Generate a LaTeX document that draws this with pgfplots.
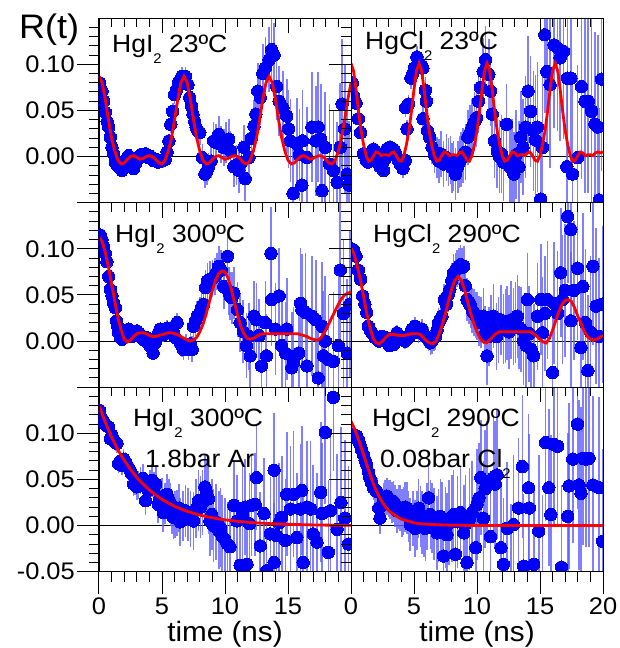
\documentclass[border=0pt]{standalone}
\usepackage{pgfplots}
\pgfplotsset{compat=1.18}
\usepackage{fontspec}
\setmainfont{Liberation Sans}[FakeStretch=1.06]
\definecolor{dotblue}{RGB}{0,0,250}
\definecolor{barblue}{RGB}{95,95,255}
\definecolor{fitred}{RGB}{255,0,0}
\newcommand\tickfont{\fontsize{24}{28}\selectfont}
\newcommand\labfont{\fontsize{25}{30}\selectfont}
\newcommand\sub[1]{\raisebox{-11pt}{\fontsize{14}{14}\selectfont #1}}
\pgfplotsset{
 panel/.style={scale only axis, width=252pt, height=184.5pt, xmin=0, xmax=20, ymin=-0.05, ymax=0.15,
   anchor=south west, axis line style={black, line width=1pt}, every tick/.style={black, line width=1pt},
   clip marker paths=true},
 mainax/.style={panel, tick align=outside, ytick pos=left, ytick={-0.05,0,0.05,0.1},
   minor ytick={-0.04,-0.03,-0.02,-0.01,0.01,0.02,0.03,0.04,0.06,0.07,0.08,0.09,0.11,0.12,0.13,0.14},
   major tick length=22pt, minor tick length=10pt,
   yticklabel style={font=\tickfont, inner sep=2pt}, xticklabel style={font=\tickfont, inner sep=4pt}},
 notopx/.style={xtick=\empty},
 botx/.style={xtick={0,5,10,15,20}, minor xtick={1,2,3,4,6,7,8,9,11,12,13,14,16,17,18,19}, xtick pos=left},
 topax/.style={panel, tick align=inside, xtick pos=right, xtick={0,5,10,15,20},
   minor xtick={1,2,3,4,6,7,8,9,11,12,13,14,16,17,18,19}, xticklabels={}, ytick=\empty,
   major tick length=15pt, minor tick length=9pt},
 pts/.style={color=dotblue, only marks, mark=*, mark size=6.2pt, mark options={draw=dotblue, fill=dotblue, line width=0pt},
   error bars/.cd, y dir=both, y explicit, error mark=none,
   error bar style={barblue, line width=1.6pt, opacity=0.8}},
 fit/.style={fitred, line width=2.8pt, no marks},
 zero/.style={black, line width=0.8pt, no marks}
}
\begin{document}
\begin{tikzpicture}
\useasboundingbox (0pt,0pt) rectangle (620pt,648pt);
% ================= TOP LEFT =================
\begin{axis}[mainax, notopx, at={(99pt,445.3pt)}, yticklabels={,0.00,0.05,0.10}]
\addplot[zero] coordinates {(0,0) (20,0)};
\addplot[pts] table[x=x,y=y,y error=e] {
x y e
0.05 0.080 0.006
0.24 0.071 0.006
0.37 0.060 0.006
0.50 0.048 0.006
0.65 0.038 0.006
0.77 0.032 0.006
0.90 0.021 0.006
1.03 0.010 0.006
1.16 0.003 0.006
1.30 -0.006 0.006
1.43 -0.009 0.006
1.56 -0.011 0.006
1.70 -0.012 0.006
1.82 -0.015 0.006
1.96 -0.010 0.006
2.10 -0.004 0.006
2.22 -0.002 0.006
2.35 0.001 0.006
2.50 -0.006 0.006
2.62 -0.010 0.006
2.75 -0.013 0.006
2.88 -0.008 0.006
3.00 -0.004 0.006
3.15 0.000 0.006
3.30 0.002 0.006
3.50 0.001 0.007
3.70 0.003 0.007
3.90 -0.001 0.007
4.10 0.000 0.007
4.30 -0.004 0.007
4.50 -0.003 0.007
4.70 -0.006 0.007
4.90 -0.005 0.007
5.10 -0.004 0.008
5.25 -0.003 0.008
5.40 0.005 0.008
5.55 0.017 0.008
5.70 0.035 0.009
5.85 0.049 0.009
6.00 0.067 0.010
6.15 0.072 0.010
6.30 0.080 0.010
6.45 0.083 0.010
6.60 0.087 0.010
6.85 0.087 0.010
7.06 0.078 0.010
7.20 0.064 0.012
7.33 0.055 0.012
7.46 0.046 0.012
7.60 0.038 0.012
7.70 0.032 0.012
7.85 0.028 0.013
8.00 0.026 0.013
8.20 -0.001 0.015
8.40 -0.019 0.015
8.55 -0.016 0.015
8.70 -0.011 0.015
8.90 -0.005 0.018
9.10 0.017 0.020
9.30 0.015 0.020
9.50 0.024 0.020
9.70 0.013 0.020
9.90 0.010 0.020
10.10 0.015 0.022
10.30 0.019 0.022
10.45 0.006 0.022
10.70 -0.011 0.022
10.90 -0.009 0.022
11.10 -0.015 0.024
11.30 -0.006 0.024
11.50 0.010 0.024
11.60 -0.024 0.024
11.90 -0.001 0.025
12.10 0.020 0.026
12.30 0.033 0.028
12.45 0.046 0.028
12.60 0.071 0.030
12.80 0.064 0.030
13.00 0.090 0.032
13.20 0.096 0.034
13.50 0.105 0.035
13.70 0.116 0.035
13.90 0.110 0.035
14.10 0.076 0.036
14.30 0.060 0.038
14.60 0.053 0.040
14.90 0.044 0.040
15.05 0.030 0.042
15.20 0.017 0.045
15.40 -0.040 0.050
15.70 0.014 0.050
15.90 0.002 0.050
16.10 -0.031 0.055
16.15 0.017 0.055
16.50 -0.001 0.055
16.90 0.032 0.060
17.20 0.017 0.060
17.40 0.032 0.060
17.60 0.019 0.060
17.70 -0.037 0.060
17.96 0.010 0.060
18.30 -0.008 0.065
18.60 -0.015 0.065
18.90 -0.028 0.065
19.15 0.010 0.070
19.30 0.057 0.070
19.50 0.030 0.070
19.70 -0.019 0.070
19.85 -0.031 0.070
};
\addplot[fit] table {
0 0.087
0.25 0.080
0.5 0.062
0.75 0.040
1.0 0.020
1.25 0.006
1.5 -0.004
1.75 -0.008
2.0 -0.007
2.25 -0.003
2.5 0.000
2.75 0.001
3.0 -0.001
3.25 -0.003
3.5 -0.002
3.75 0.000
4.0 0.001
4.25 0.000
4.5 -0.003
4.75 -0.007
5.0 -0.008
5.25 -0.004
5.5 0.006
5.75 0.020
6.0 0.040
6.25 0.062
6.5 0.080
6.75 0.087
7.0 0.080
7.25 0.062
7.5 0.040
7.75 0.020
8.0 0.006
8.25 -0.004
8.5 -0.008
8.75 -0.007
9.0 -0.003
9.25 0.000
9.5 0.001
9.75 -0.001
10.0 -0.003
10.25 -0.002
10.5 0.000
10.75 0.001
11.0 0.000
11.25 -0.003
11.5 -0.007
11.75 -0.008
12.0 -0.004
12.25 0.006
12.5 0.020
12.75 0.040
13.0 0.062
13.25 0.080
13.5 0.087
13.75 0.080
14.0 0.062
14.25 0.040
14.5 0.020
14.75 0.006
15.0 -0.004
15.25 -0.008
15.5 -0.007
15.75 -0.003
16.0 0.000
16.25 0.001
16.5 -0.001
16.75 -0.003
17.0 -0.002
17.25 0.000
17.5 0.001
17.75 0.000
18.0 -0.003
18.25 -0.007
18.5 -0.008
18.75 -0.004
19.0 0.006
19.25 0.020
19.5 0.040
19.75 0.062
20.0 0.080
};
\end{axis}
\begin{axis}[topax, at={(99pt,445.3pt)}]\end{axis}
% ================= TOP RIGHT =================
\begin{axis}[mainax, notopx, at={(351pt,445.3pt)}, yticklabels={}]
\addplot[zero] coordinates {(0,0) (20,0)};
\addplot[pts] table[x=x,y=y,y error=e] {
x y e
0.10 0.080 0.005
0.19 0.066 0.005
0.40 0.058 0.005
0.58 0.041 0.005
0.77 0.026 0.005
0.98 0.003 0.006
1.20 -0.004 0.006
1.35 -0.006 0.006
1.51 -0.001 0.006
1.65 0.004 0.006
1.78 0.008 0.006
1.92 0.006 0.006
2.05 0.003 0.006
2.18 -0.004 0.006
2.31 -0.011 0.006
2.45 -0.009 0.007
2.58 -0.015 0.007
2.71 -0.002 0.007
2.84 0.008 0.007
2.98 0.006 0.007
3.11 0.010 0.008
3.24 0.004 0.008
3.37 0.008 0.008
3.50 0.005 0.008
3.59 0.001 0.008
3.75 -0.004 0.009
3.90 -0.008 0.009
4.00 -0.006 0.009
4.12 -0.013 0.010
4.30 -0.004 0.010
4.33 0.053 0.010
4.45 0.030 0.010
4.57 0.057 0.010
4.75 0.085 0.012
4.90 0.090 0.012
5.02 0.096 0.012
5.23 0.108 0.012
5.50 0.100 0.012
5.71 0.096 0.013
5.71 0.041 0.013
5.90 0.072 0.014
5.98 0.060 0.014
6.08 0.028 0.015
6.24 0.021 0.016
6.43 0.010 0.018
6.62 0.002 0.020
6.83 -0.001 0.022
7.00 -0.005 0.024
7.14 0.003 0.025
7.35 -0.008 0.025
7.57 -0.001 0.025
7.75 -0.006 0.026
7.89 -0.004 0.026
8.02 -0.012 0.027
8.15 -0.010 0.027
8.29 -0.019 0.028
8.47 -0.011 0.028
8.60 -0.006 0.028
8.74 -0.003 0.030
8.90 0.001 0.030
9.08 0.005 0.030
9.27 0.021 0.030
9.45 0.026 0.030
9.61 0.032 0.030
9.80 0.038 0.032
9.96 0.042 0.032
10.12 0.060 0.034
10.28 0.075 0.034
10.49 0.092 0.036
10.68 0.105 0.036
10.94 0.089 0.038
11.08 0.071 0.038
11.21 0.046 0.040
11.39 0.017 0.040
11.61 0.006 0.040
11.80 0.000 0.040
11.93 0.003 0.042
12.10 -0.006 0.042
12.35 0.035 0.044
12.62 -0.011 0.045
12.80 -0.004 0.045
12.93 -0.019 0.046
13.10 0.002 0.048
13.33 -0.011 0.050
13.47 0.021 0.050
13.65 0.010 0.052
13.86 0.032 0.055
14.05 0.071 0.060
14.26 0.049 0.060
14.48 0.028 0.065
14.65 0.018 0.070
14.79 0.032 0.070
15.06 -0.046 0.080
15.20 0.010 0.080
15.38 0.132 0.085
15.54 0.092 0.085
15.80 0.078 0.090
16.12 0.121 0.090
16.39 0.118 0.090
16.60 0.107 0.090
16.87 0.114 0.095
17.13 -0.011 0.095
17.18 0.085 0.095
17.45 0.085 0.100
17.58 -0.019 0.100
17.98 -0.001 0.100
18.30 0.076 0.100
18.57 0.060 0.100
18.83 0.060 0.100
19.10 0.049 0.100
19.36 0.035 0.100
19.58 0.032 0.100
19.71 -0.047 0.100
19.89 0.084 0.100
};
\addplot[fit] table {
0.0 0.101
0.2 0.093
0.4 0.073
0.6 0.049
0.8 0.028
1.0 0.013
1.2 0.001
1.4 -0.005
1.6 -0.004
1.8 0.001
2.0 0.005
2.2 0.004
2.4 0.001
2.6 0.002
2.8 0.002
3.0 0.001
3.2 0.004
3.4 0.005
3.6 0.001
3.8 -0.004
4.0 -0.005
4.2 0.001
4.4 0.013
4.6 0.028
4.8 0.049
5.0 0.073
5.2 0.093
5.4 0.101
5.6 0.093
5.8 0.073
6.0 0.049
6.2 0.028
6.4 0.013
6.6 0.001
6.8 -0.005
7.0 -0.004
7.2 0.001
7.4 0.005
7.6 0.004
7.8 0.001
8.0 0.002
8.2 0.002
8.4 0.001
8.6 0.004
8.8 0.005
9.0 0.001
9.2 -0.004
9.4 -0.005
9.6 0.001
9.8 0.013
10.0 0.028
10.2 0.049
10.4 0.073
10.6 0.093
10.8 0.101
11.0 0.093
11.2 0.073
11.4 0.049
11.6 0.028
11.8 0.013
12.0 0.001
12.2 -0.005
12.4 -0.004
12.6 0.001
12.8 0.005
13.0 0.004
13.2 0.001
13.4 0.002
13.6 0.002
13.8 0.001
14.0 0.004
14.2 0.005
14.4 0.001
14.6 -0.004
14.8 -0.005
15.0 0.001
15.2 0.013
15.4 0.028
15.6 0.049
15.8 0.073
16.0 0.093
16.2 0.101
16.4 0.093
16.6 0.073
16.8 0.049
17.0 0.028
17.2 0.013
17.4 0.001
17.6 -0.005
17.8 -0.004
18.0 0.001
18.2 0.005
18.4 0.004
18.6 0.001
18.8 0.002
19.0 0.002
19.2 0.001
19.4 0.004
19.6 0.005
19.8 0.004
20.0 0.005
};
\end{axis}
\begin{axis}[topax, at={(351pt,445.3pt)}]\end{axis}
% ================= MIDDLE LEFT =================
\begin{axis}[mainax, notopx, at={(99pt,260.8pt)}, yticklabels={,0.00,0.05,0.10}]
\addplot[zero] coordinates {(0,0) (20,0)};
\addplot[pts] table[x=x,y=y,y error=e] {
x y e
0.03 0.113 0.005
0.10 0.115 0.005
0.24 0.110 0.005
0.37 0.102 0.005
0.50 0.095 0.005
0.63 0.086 0.005
0.77 0.070 0.005
0.90 0.056 0.005
1.03 0.049 0.005
1.16 0.041 0.005
1.30 0.036 0.005
1.38 0.022 0.005
1.48 0.016 0.005
1.56 0.009 0.005
1.70 0.004 0.005
1.83 0.002 0.005
1.96 0.006 0.005
2.10 0.011 0.006
2.22 0.009 0.006
2.35 0.013 0.006
2.48 0.008 0.006
2.60 0.005 0.006
2.75 0.008 0.006
2.87 0.006 0.006
3.00 0.011 0.006
3.15 0.009 0.006
3.30 0.007 0.006
3.50 0.002 0.007
3.70 0.004 0.007
3.90 -0.002 0.007
4.10 -0.006 0.007
4.30 -0.013 0.008
4.45 -0.002 0.008
4.60 0.005 0.008
4.75 0.010 0.008
4.87 0.013 0.008
5.00 0.010 0.008
5.10 0.007 0.008
5.25 0.011 0.008
5.40 0.014 0.009
5.55 0.010 0.009
5.70 0.013 0.009
5.90 0.009 0.010
6.05 0.004 0.010
6.20 0.020 0.010
6.45 -0.002 0.010
6.60 -0.006 0.011
6.70 -0.009 0.011
6.90 -0.004 0.012
7.10 -0.009 0.012
7.25 -0.003 0.013
7.40 -0.009 0.014
7.50 0.016 0.015
7.65 0.022 0.016
7.80 0.027 0.016
8.00 0.031 0.017
8.15 0.036 0.018
8.30 0.040 0.018
8.45 0.058 0.019
8.60 0.065 0.020
8.80 0.067 0.020
9.00 0.068 0.020
9.20 0.070 0.020
9.35 0.075 0.020
9.50 0.081 0.022
9.70 0.077 0.022
9.90 0.059 0.024
10.20 0.092 0.026
10.30 0.054 0.026
10.40 0.049 0.026
10.55 0.047 0.028
10.70 0.052 0.028
11.00 0.034 0.030
11.20 0.020 0.032
11.45 0.010 0.034
11.70 -0.005 0.035
11.90 0.005 0.036
12.00 -0.016 0.036
12.30 0.027 0.038
12.50 0.023 0.040
12.70 0.006 0.040
12.90 -0.027 0.042
13.20 0.020 0.045
13.30 -0.016 0.045
13.65 0.095 0.050
13.70 0.045 0.050
14.00 0.013 0.050
14.30 0.049 0.052
14.50 -0.005 0.055
14.80 -0.013 0.055
14.90 0.013 0.055
15.30 -0.029 0.060
15.45 -0.023 0.060
15.85 -0.013 0.060
16.00 0.041 0.060
16.10 0.034 0.060
16.40 0.031 0.065
16.50 -0.027 0.065
16.90 0.027 0.065
17.20 0.023 0.065
17.40 -0.040 0.070
17.70 0.016 0.070
17.80 -0.016 0.070
17.96 0.000 0.070
18.20 -0.020 0.070
18.60 -0.022 0.075
19.00 -0.005 0.075
19.15 0.077 0.075
19.40 0.030 0.080
19.70 -0.013 0.080
19.90 0.040 0.080
};
\addplot[fit] table {
0 0.112
0.25 0.108
0.5 0.096
0.75 0.080
1.0 0.062
1.25 0.043
1.5 0.026
1.75 0.012
2.0 0.002
2.25 -0.001
2.5 0.001
2.75 0.005
3.0 0.008
3.25 0.009
3.5 0.009
3.75 0.008
4.0 0.006
4.25 0.005
4.5 0.005
4.75 0.006
5.0 0.007
5.25 0.008
5.5 0.009
5.75 0.009
6.0 0.008
6.25 0.007
6.5 0.005
6.75 0.003
7.0 0.001
7.25 0.000
7.5 0.001
7.75 0.004
8.0 0.010
8.25 0.018
8.5 0.029
8.75 0.042
9.0 0.055
9.25 0.066
9.5 0.073
9.75 0.076
10.0 0.075
10.25 0.068
10.5 0.056
10.75 0.042
11.0 0.028
11.25 0.016
11.5 0.008
11.75 0.003
12.0 0.002
12.25 0.003
12.5 0.005
12.75 0.007
13.0 0.008
13.5 0.008
14.0 0.008
14.5 0.008
15.0 0.008
15.5 0.008
15.75 0.008
16.0 0.007
16.25 0.006
16.5 0.005
16.75 0.003
17.0 0.002
17.25 0.001
17.5 0.002
17.75 0.006
18.0 0.012
18.25 0.019
18.5 0.026
18.75 0.033
19.0 0.040
19.25 0.046
19.5 0.050
19.75 0.052
20.0 0.053
};
\end{axis}
\begin{axis}[topax, at={(99pt,260.8pt)}]\end{axis}
% ================= MIDDLE RIGHT =================
\begin{axis}[mainax, notopx, at={(351pt,260.8pt)}, yticklabels={}]
\addplot[zero] coordinates {(0,0) (20,0)};
\addplot[pts] table[x=x,y=y,y error=e] {
x y e
0.03 0.100 0.005
0.19 0.099 0.005
0.40 0.092 0.005
0.58 0.077 0.005
0.77 0.067 0.005
0.93 0.049 0.005
1.10 0.040 0.005
1.25 0.031 0.005
1.38 0.016 0.005
1.52 0.012 0.005
1.65 0.009 0.005
1.90 0.004 0.005
2.05 0.002 0.005
2.20 0.000 0.005
2.32 0.003 0.006
2.44 0.005 0.006
2.57 0.002 0.006
2.70 0.004 0.006
2.90 -0.001 0.006
3.05 -0.005 0.007
3.20 -0.002 0.007
3.37 -0.004 0.007
3.50 0.004 0.007
3.64 0.009 0.008
3.77 0.006 0.008
3.90 0.005 0.008
4.10 0.003 0.008
4.30 0.000 0.009
4.45 0.002 0.009
4.57 0.004 0.009
4.70 0.008 0.010
4.83 0.013 0.010
4.96 0.011 0.010
5.10 0.016 0.010
5.25 0.012 0.010
5.37 0.009 0.011
5.50 0.010 0.011
5.63 0.013 0.011
5.77 0.008 0.012
5.90 0.005 0.012
6.03 0.004 0.012
6.16 0.002 0.013
6.30 -0.002 0.013
6.43 0.000 0.014
6.57 0.003 0.014
6.70 0.005 0.015
6.83 0.012 0.015
6.96 0.020 0.016
7.10 0.024 0.016
7.22 0.027 0.017
7.40 0.045 0.017
7.57 0.040 0.018
7.70 0.050 0.018
7.85 0.056 0.019
8.00 0.066 0.019
8.15 0.074 0.020
8.28 0.076 0.020
8.40 0.079 0.020
8.55 0.081 0.020
8.69 0.083 0.021
8.82 0.080 0.021
8.95 0.081 0.022
9.07 0.060 0.022
9.20 0.045 0.023
9.35 0.042 0.023
9.50 0.038 0.024
9.62 0.033 0.024
9.75 0.031 0.025
9.88 0.028 0.025
10.00 0.027 0.026
10.15 0.022 0.027
10.30 0.020 0.028
10.50 0.027 0.030
10.65 0.008 0.030
10.80 -0.016 0.032
10.95 0.005 0.032
11.10 0.016 0.034
11.30 0.027 0.035
11.55 0.005 0.036
11.70 0.012 0.036
11.90 0.023 0.038
12.10 0.013 0.038
12.25 0.016 0.040
12.40 0.020 0.040
12.55 0.010 0.040
12.70 0.023 0.042
12.90 0.016 0.042
13.05 0.020 0.044
13.20 0.027 0.045
13.35 0.015 0.045
13.50 0.013 0.046
13.70 0.000 0.048
13.90 -0.005 0.050
14.00 0.045 0.050
14.15 0.008 0.052
14.30 -0.009 0.055
14.50 -0.016 0.056
14.80 0.027 0.058
15.06 0.045 0.060
15.20 0.009 0.060
15.40 0.030 0.062
15.60 0.045 0.064
16.00 -0.034 0.066
16.10 0.041 0.066
16.40 0.030 0.068
16.65 0.074 0.070
16.80 0.045 0.070
17.00 0.055 0.072
17.20 0.135 0.072
17.45 0.121 0.075
17.45 0.022 0.075
17.70 0.055 0.075
17.98 0.079 0.078
18.25 -0.007 0.080
18.40 0.059 0.080
18.60 0.020 0.080
18.80 -0.032 0.082
19.00 0.010 0.082
19.20 0.081 0.085
19.45 0.038 0.085
19.70 0.005 0.085
19.95 0.040 0.085
};
\addplot[fit] table {
0 0.101
0.25 0.094
0.5 0.081
0.75 0.066
1.0 0.048
1.25 0.030
1.5 0.015
1.75 0.003
2.0 -0.002
2.25 -0.003
2.5 0.000
2.75 0.004
3.0 0.007
3.5 0.007
3.75 0.006
4.0 0.006
4.25 0.006
4.5 0.007
4.75 0.008
5.0 0.008
5.25 0.008
5.5 0.007
5.75 0.004
6.0 0.000
6.25 -0.002
6.5 -0.003
6.75 0.000
7.0 0.008
7.25 0.018
7.5 0.030
7.75 0.044
8.0 0.057
8.25 0.066
8.5 0.070
8.75 0.066
9.0 0.056
9.25 0.043
9.5 0.030
9.75 0.019
10.0 0.010
10.25 0.003
10.5 -0.001
10.75 -0.002
11.0 0.001
11.25 0.005
11.5 0.008
11.75 0.010
12.0 0.010
13.0 0.010
14.0 0.010
14.25 0.010
14.5 0.008
14.75 0.005
15.0 0.002
15.25 -0.001
15.5 -0.002
15.75 0.003
16.0 0.012
16.25 0.022
16.5 0.032
16.75 0.040
17.0 0.044
17.25 0.045
17.5 0.043
17.75 0.036
18.0 0.027
18.25 0.019
18.5 0.011
18.75 0.005
19.0 0.002
19.25 0.001
19.5 0.002
19.75 0.004
20.0 0.006
};
\end{axis}
\begin{axis}[topax, at={(351pt,260.8pt)}]\end{axis}
% ================= BOTTOM LEFT =================
\begin{axis}[mainax, botx, at={(99pt,76.3pt)}, yticklabels={-0.05,0.00,0.05,0.10}, xticklabels={0,5,10,15,{}}]
\addplot[zero] coordinates {(0,0) (20,0)};
\addplot[pts] table[x=x,y=y,y error=e] {
x y e
0.03 0.125 0.008
0.10 0.119 0.008
0.24 0.116 0.008
0.37 0.112 0.008
0.50 0.110 0.008
0.63 0.108 0.008
0.77 0.107 0.008
0.90 0.094 0.009
1.03 0.098 0.009
1.16 0.092 0.009
1.30 0.090 0.009
1.43 0.089 0.010
1.56 0.067 0.010
1.70 0.070 0.010
1.83 0.065 0.010
1.96 0.072 0.011
2.10 0.069 0.011
2.22 0.066 0.012
2.35 0.063 0.012
2.48 0.060 0.012
2.60 0.056 0.013
2.75 0.045 0.013
2.87 0.047 0.014
3.00 0.042 0.014
3.15 0.044 0.015
3.30 0.049 0.015
3.50 0.051 0.016
3.70 0.027 0.016
3.90 0.038 0.017
4.05 0.043 0.017
4.20 0.049 0.018
4.35 0.040 0.018
4.50 0.045 0.019
4.70 0.023 0.020
4.85 0.030 0.020
5.00 0.031 0.021
5.10 0.014 0.021
5.25 0.024 0.022
5.40 0.034 0.022
5.55 0.028 0.023
5.66 0.023 0.023
5.80 0.015 0.024
5.90 0.009 0.024
6.05 0.012 0.025
6.20 0.014 0.025
6.35 0.019 0.026
6.45 0.004 0.026
6.65 0.010 0.027
6.85 0.016 0.028
7.05 0.012 0.029
7.25 0.007 0.030
7.50 0.005 0.031
7.70 0.018 0.032
7.90 0.027 0.033
8.05 0.020 0.034
8.20 0.025 0.035
8.40 0.042 0.036
8.55 0.035 0.037
8.70 0.029 0.038
8.80 0.005 0.038
8.95 0.012 0.039
9.10 0.000 0.040
9.30 0.004 0.041
9.50 -0.005 0.042
9.65 -0.002 0.043
9.76 -0.011 0.044
10.00 -0.015 0.045
10.20 -0.020 0.046
10.40 -0.023 0.047
10.70 0.022 0.048
10.95 0.005 0.050
11.20 -0.043 0.050
11.40 0.012 0.052
11.60 0.020 0.052
11.75 -0.042 0.054
11.95 0.002 0.055
12.10 0.022 0.055
12.40 0.023 0.056
12.50 0.052 0.057
12.80 -0.022 0.058
13.10 0.013 0.060
13.30 -0.049 0.060
13.60 -0.009 0.062
13.90 0.060 0.062
13.90 -0.040 0.064
14.10 -0.011 0.064
14.30 0.003 0.065
14.50 0.009 0.066
14.80 -0.016 0.066
14.90 0.034 0.067
15.20 0.018 0.068
15.45 0.034 0.068
15.70 -0.013 0.070
15.98 0.018 0.070
16.10 0.038 0.070
16.20 -0.040 0.072
16.50 0.020 0.072
16.80 0.018 0.074
17.00 -0.009 0.075
17.30 -0.018 0.075
17.60 0.036 0.076
17.70 0.013 0.076
17.96 0.101 0.078
18.20 -0.029 0.078
18.36 0.016 0.080
18.60 0.139 0.080
18.90 -0.004 0.082
19.20 0.025 0.082
19.50 0.008 0.085
19.80 -0.020 0.085
};
\addplot[fit] table {
0 0.130
0.5 0.112
1.0 0.096
1.5 0.082
2.0 0.071
2.5 0.061
3.0 0.052
3.5 0.045
4.0 0.0385
4.5 0.0331
5.0 0.0284
5.5 0.0244
6.0 0.0210
6.5 0.0180
7.0 0.0155
7.5 0.0133
8.0 0.0114
8.5 0.0098
9.0 0.0084
9.5 0.0072
10.0 0.0062
11.0 0.0046
12.0 0.0034
13.0 0.0025
14.0 0.0018
15.0 0.0014
16.0 0.0010
17.0 0.0007
18.0 0.0005
19.0 0.0004
20.0 0.0003
};
\end{axis}
\begin{axis}[topax, at={(99pt,76.3pt)}]\end{axis}
% ================= BOTTOM RIGHT =================
\begin{axis}[mainax, botx, at={(351pt,76.3pt)}, yticklabels={}, xticklabels={0,5,10,15,20}]
\addplot[zero] coordinates {(0,0) (20,0)};
\addplot[pts] table[x=x,y=y,y error=e] {
x y e
0.00 0.095 0.008
0.19 0.099 0.008
0.32 0.098 0.008
0.45 0.097 0.008
0.60 0.093 0.009
0.72 0.088 0.009
0.85 0.082 0.009
0.98 0.077 0.010
1.12 0.071 0.010
1.25 0.066 0.011
1.38 0.058 0.011
1.50 0.052 0.012
1.65 0.046 0.012
1.78 0.041 0.013
1.92 0.039 0.014
2.05 0.037 0.015
2.20 0.019 0.016
2.30 0.008 0.017
2.45 0.022 0.018
2.58 0.028 0.018
2.71 0.030 0.019
2.84 0.032 0.020
2.97 0.029 0.020
3.10 0.028 0.021
3.24 0.025 0.022
3.37 0.026 0.022
3.50 0.021 0.023
3.64 0.016 0.024
3.77 0.020 0.024
3.90 0.019 0.025
4.04 0.014 0.026
4.17 0.016 0.026
4.30 0.020 0.027
4.44 0.019 0.028
4.57 0.010 0.028
4.70 0.001 0.029
4.90 0.008 0.030
5.10 -0.003 0.031
5.24 0.006 0.032
5.37 0.019 0.032
5.50 0.010 0.033
5.63 0.003 0.034
5.77 0.000 0.034
5.90 -0.003 0.035
6.03 0.010 0.036
6.16 0.030 0.036
6.30 0.012 0.037
6.43 0.008 0.038
6.60 0.002 0.039
6.83 -0.008 0.040
6.95 0.000 0.040
7.09 0.010 0.041
7.22 0.005 0.042
7.35 -0.033 0.043
7.50 -0.002 0.044
7.62 -0.010 0.045
7.80 0.003 0.046
8.00 0.008 0.047
8.15 0.012 0.048
8.29 -0.031 0.049
8.45 0.004 0.050
8.69 0.014 0.051
8.95 -0.008 0.052
9.10 0.002 0.053
9.20 -0.040 0.054
9.40 0.007 0.055
9.60 0.014 0.056
9.90 -0.024 0.058
10.00 0.023 0.060
10.15 0.030 0.060
10.30 0.052 0.062
10.50 0.008 0.062
10.65 0.040 0.064
10.80 0.048 0.065
11.08 -0.012 0.066
11.30 0.052 0.068
11.45 0.045 0.068
11.60 0.055 0.070
11.90 -0.024 0.070
12.10 -0.042 0.072
12.40 -0.003 0.072
12.70 -0.051 0.074
12.90 0.001 0.075
13.30 0.019 0.076
13.60 0.064 0.078
13.70 -0.044 0.078
14.10 0.041 0.080
14.15 0.019 0.080
14.50 -0.042 0.082
14.90 -0.006 0.082
15.20 -0.051 0.084
15.45 0.090 0.085
15.70 0.041 0.085
15.86 0.012 0.086
16.10 0.088 0.087
16.40 0.086 0.088
16.70 -0.045 0.089
17.20 0.010 0.090
17.30 0.043 0.090
17.60 0.072 0.091
17.98 0.110 0.092
18.10 0.044 0.092
18.25 0.035 0.093
18.40 0.073 0.094
18.65 0.072 0.095
18.90 0.073 0.096
19.20 0.044 0.097
19.70 0.041 0.098
19.97 -0.017 0.100
};
\addplot[fit] table {
0 0.113
0.25 0.106
0.5 0.097
0.75 0.087
1.0 0.077
1.25 0.066
1.5 0.056
1.75 0.046
2.0 0.038
2.25 0.031
2.5 0.025
2.75 0.020
3.0 0.016
3.5 0.011
4.0 0.007
4.5 0.005
5.0 0.003
5.5 0.002
6.0 0.0015
7.0 0.0008
8.0 0.0004
10.0 0.0001
12.0 0.0
20.0 0.0
};
\end{axis}
\begin{axis}[topax, at={(351pt,76.3pt)}]\end{axis}
% ================= TEXT =================
\node[anchor=base west, inner sep=0, font=\fontsize{34}{40}\selectfont] at (19pt,609pt) {R(t)};
\node[anchor=base west, inner sep=0, font=\labfont] at (112pt,595pt) {HgI\sub{2} 23ºC};
\node[anchor=base west, inner sep=0, font=\labfont] at (365pt,598pt) {HgCl\sub{2} 23ºC};
\node[anchor=base west, inner sep=0, font=\labfont] at (115pt,405pt) {HgI\sub{2} 300ºC};
\node[anchor=base west, inner sep=0, font=\labfont] at (373pt,405pt) {HgCl\sub{2} 290ºC};
\node[anchor=base west, inner sep=0, font=\labfont] at (133pt,221pt) {HgI\sub{2} 300ºC};
\node[anchor=base west, inner sep=0, font=\labfont] at (145pt,180pt) {1.8bar Ar};
\node[anchor=base west, inner sep=0, font=\labfont] at (372pt,221pt) {HgCl\sub{2} 290ºC};
\node[anchor=base west, inner sep=0, font=\labfont] at (380pt,180pt) {0.08bar Cl\sub{2}};
\node[anchor=base, inner sep=0, font=\fontsize{28}{32}\selectfont] at (225pt,6pt) {time (ns)};
\node[anchor=base, inner sep=0, font=\fontsize{28}{32}\selectfont] at (477pt,6pt) {time (ns)};
\end{tikzpicture}
\end{document}
